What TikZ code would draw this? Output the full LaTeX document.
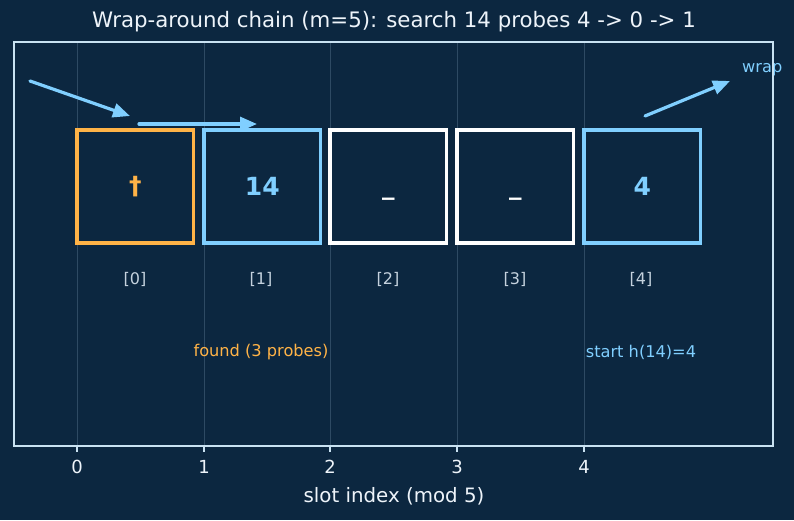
\documentclass[tikz,border=0pt]{standalone}
\usepackage{fontspec}
\setmainfont{DejaVu Sans}
\usetikzlibrary{arrows.meta}
\definecolor{bg}{HTML}{0C2740}
\definecolor{frame}{HTML}{C9E2F2}
\definecolor{gridc}{HTML}{2E4A63}
\definecolor{orng}{HTML}{FFB347}
\definecolor{lblue}{HTML}{80CFFF}
\definecolor{idxc}{HTML}{C5D2DE}
\definecolor{txt}{HTML}{EEF4FA}
\tikzset{
  slotbox/.style={draw, line width=3.2pt, minimum width=116.5pt, minimum height=113pt, inner sep=0pt, outer sep=0pt, anchor=north west},
  slottxt/.style={font=\fontsize{25}{27}\selectfont\bfseries, inner sep=0pt},
  idxlbl/.style={font=\fontsize{16}{18}\selectfont, text=idxc, inner sep=0pt},
  ticklbl/.style={font=\fontsize{18}{20}\selectfont, text=txt, inner sep=0pt},
  annot/.style={font=\fontsize{16.2}{18}\selectfont, inner sep=0pt},
  probe/.style={draw=lblue, line width=3.2pt, line cap=round, -{Triangle[length=17pt,width=14pt]}},
}
\begin{document}
\begin{tikzpicture}[x=1pt,y=-1pt]
\fill[bg] (0,0) rectangle (794,520);
\useasboundingbox (0,0) rectangle (794,520);
% grid
\foreach \i/\xx in {0/77,1/204,2/330,3/457,4/584}{
  \draw[gridc, line width=0.8pt] (\xx,42) -- (\xx,446);
  \draw[frame, line width=1.2pt] (\xx,446) -- (\xx,452);
  \node[ticklbl] (tick\i) at (\xx,467) {\i};
}
% boxes
\node[slotbox, draw=orng] (b0) at (77,130) {};
\node[slotbox, draw=lblue] (b1) at (204,130) {};
\node[slotbox, draw=white] (b2) at (330,130) {};
\node[slotbox, draw=white] (b3) at (457,130) {};
\node[slotbox, draw=lblue] (b4) at (584,130) {};
\node[slottxt, text=orng] (t0) at (b0.center) {†};
\node[slottxt, text=lblue] (t1) at (b1.center) {14};
\node[slottxt, text=white] (t2) at ([yshift=-11pt]b2.center) {\_};
\node[slottxt, text=white] (t3) at ([yshift=-11pt]b3.center) {\_};
\node[slottxt, text=lblue] (t4) at (b4.center) {4};
% index labels
\foreach \i/\xx in {0/135,1/261,2/388,3/515,4/641}{
  \node[idxlbl] (i\i) at (\xx,279) {[\i]};
}
% annotations
\node[annot, text=orng] (found) at (261,352) {found (3 probes)};
\node[annot, text=lblue] (start) at (641,352) {start h(14)=4};
\node[annot, text=lblue, anchor=west] (wrap) at (742,70) {wrap};
% arrows
\coordinate (a1s) at (30,81);
\coordinate (a1e) at (130,116);
\coordinate (a2s) at (139,124);
\coordinate (a2e) at (257,124);
\coordinate (a3s) at (645,116);
\coordinate (a3e) at (730,81);
\draw[probe] (a1s) -- (a1e);
\draw[probe] (a2s) -- (a2e);
\draw[probe] (a3s) -- (a3e);
% frame
\draw[frame, line width=1.4pt] (14,42) rectangle (773,446);
% title and xlabel
\node[font=\fontsize{21.3}{24}\selectfont, text=txt, inner sep=0pt] (title) at (394,22) {Wrap-around chain (m=5): search 14 probes 4 -> 0 -> 1};
\node[font=\fontsize{19.8}{22}\selectfont, text=txt, inner sep=0pt] (xlabel) at (394,496) {slot index (mod 5)};
\end{tikzpicture}
\end{document}
